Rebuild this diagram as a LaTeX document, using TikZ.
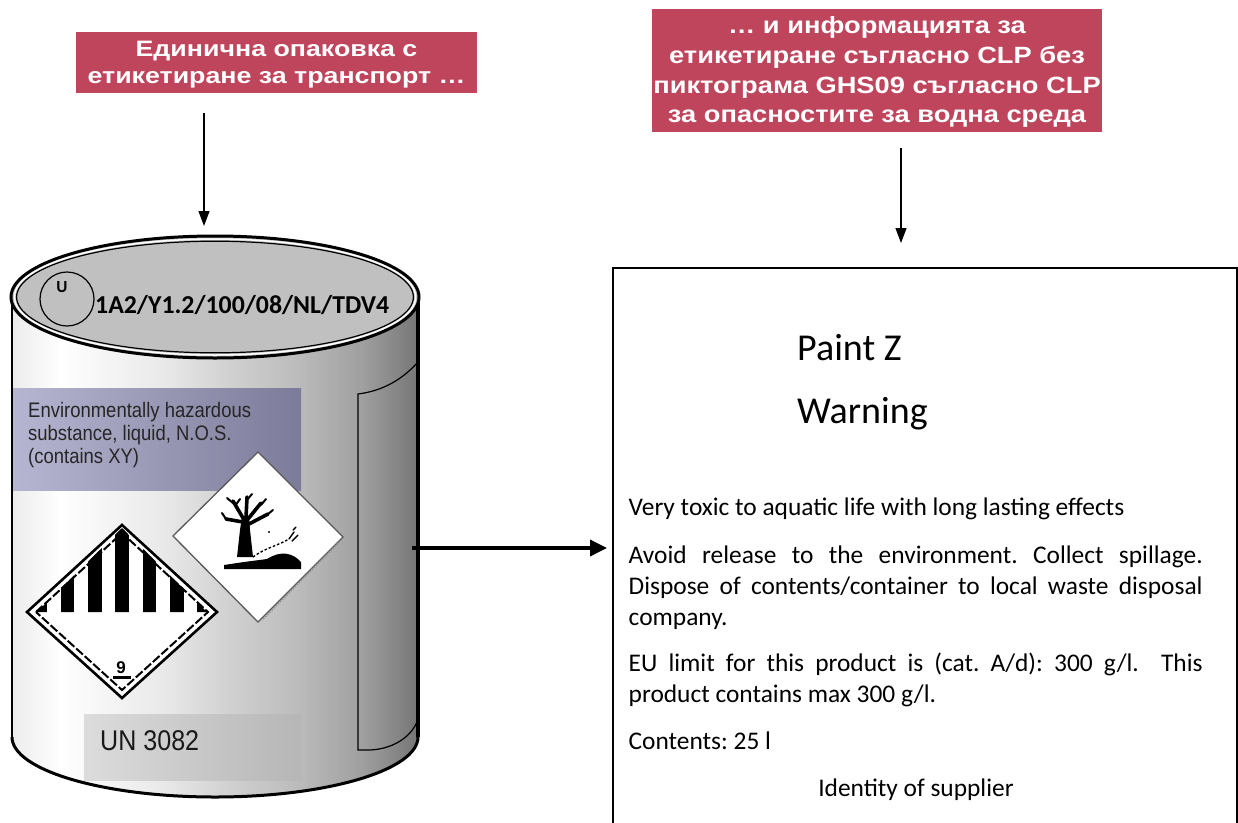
\documentclass[tikz,border=0pt]{standalone}
\usepackage{fontspec}
\setmainfont{Carlito}
\newfontfamily\arialf{Liberation Sans}
\newfontfamily\hdrfA[FakeStretch=1.2]{Liberation Sans}
\newfontfamily\hdrfB[FakeStretch=1.16]{Liberation Sans}
\newfontfamily\narrowf[FakeStretch=0.88]{Liberation Sans}
\usetikzlibrary{arrows.meta}
\definecolor{hdr}{RGB}{191,69,92}
\definecolor{topgray}{RGB}{192,192,192}
\definecolor{lblL}{RGB}{182,182,210}
\definecolor{lblR}{RGB}{124,124,154}
\definecolor{unL}{RGB}{220,220,220}
\definecolor{unR}{RGB}{182,182,182}
\definecolor{dA}{RGB}{236,236,236}
\definecolor{dB}{RGB}{232,232,232}
\definecolor{dC}{RGB}{208,208,208}
\definecolor{dD}{RGB}{188,188,188}
\definecolor{dE}{RGB}{160,160,160}
\definecolor{dF}{RGB}{118,118,118}
\pgfdeclarehorizontalshading{drumbody}{100bp}{color(0bp)=(dA); color(25bp)=(dA); color(31bp)=(white); color(44bp)=(dB); color(52bp)=(dC); color(60bp)=(dD); color(68bp)=(dE); color(75bp)=(dF); color(100bp)=(dF)}
\frenchspacing
\begin{document}
\begin{tikzpicture}[x=1pt,y=-1pt,
  hdrbox/.style={fill=hdr, inner sep=0},
  hdrtxt/.style={text=white, anchor=base, inner sep=0},
  bodytxt/.style={anchor=base west, inner sep=0, font=\fontsize{25.4}{30}\selectfont},
  headtxt/.style={anchor=base west, inner sep=0, font=\fontsize{38}{44}\selectfont},
  narrowtxt/.style={anchor=base west, inner sep=0, text=black!85, font=\narrowf\fontsize{21}{24}\selectfont},
  thinarrow/.style={-{Triangle[length=15pt,width=11pt]}, line width=1.2pt},
  thickarrow/.style={-{Triangle[length=17pt,width=16pt]}, line width=3.5pt}]
\useasboundingbox (0,0) rectangle (1238,822);

% ---------- header boxes ----------
\node[hdrbox, minimum width=401pt, minimum height=61pt] (h1) at (276.5,62.5) {};
\node[hdrtxt, font=\hdrfA\bfseries\fontsize{22.3}{26}\selectfont] (h1a) at (276.5,56.7) {Единична опаковка с};
\node[hdrtxt, font=\hdrfA\bfseries\fontsize{22.3}{26}\selectfont] (h1b) at (276.5,83.3) {етикетиране за транспорт …};

\node[hdrbox, minimum width=450pt, minimum height=123pt] (h2) at (877,70.5) {};
\node[hdrtxt, font=\hdrfB\bfseries\fontsize{23.5}{28}\selectfont] (h2a) at (877,33) {… и информацията за};
\node[hdrtxt, font=\hdrfB\bfseries\fontsize{23.5}{28}\selectfont] (h2b) at (877,63) {етикетиране съгласно CLP без};
\node[hdrtxt, font=\hdrfB\bfseries\fontsize{23.5}{28}\selectfont] (h2c) at (877,93.5) {пиктограма GHS09 съгласно CLP};
\node[hdrtxt, font=\hdrfB\bfseries\fontsize{23.5}{28}\selectfont] (h2d) at (877,122.5) {за опасностите за водна среда};

% ---------- drum body ----------
\shade[shading=drumbody] (12,297) -- (12,737) .. controls (12,770) and (103,797) .. (215,797)
  .. controls (327,797) and (418,770) .. (418,737) -- (418,297) -- cycle;
% right panel
\draw[line width=1.2pt] (418,362) .. controls (402,380) and (382,391) .. (358,394) -- (358,750) -- (370,750)
  .. controls (392,749) and (410,738) .. (417,722);

% blue label
\shade[left color=lblL, right color=lblR] (12,388) rectangle (301,490);
% UN rectangle
\shade[left color=unL, right color=unR] (84,714) rectangle (301,780);

% ---------- class 9 label ----------
\fill[white] (27,612) -- (122,525) -- (217,612) -- (122,698) -- cycle;
\begin{scope}
  \clip (37,612) -- (122,528) -- (207,612) -- cycle;
  \foreach \cx in {40,67.3,94.7,122,149.3,176.7,204}
    \fill (\cx-6.8,520) rectangle (\cx+6.8,612.5);
\end{scope}
\draw[line width=2.6pt, line join=miter] (27,612) -- (122,525) -- (217,612) -- (122,698) -- cycle;
\draw[line width=2pt, dash pattern=on 9pt off 2.5pt] (36,612) -- (122,533) -- (208,612) -- (122,690) -- cycle;
\node[anchor=base, inner sep=0, font=\arialf\bfseries\fontsize{17}{20}\selectfont] (nine) at (121,673) {9};
\fill (113,676) rectangle (131,679);

% ---------- environment pictogram ----------
\filldraw[fill=white, draw=black!65, line width=1.3pt] (173,536) -- (258,452) -- (343,537) -- (258,622) -- cycle;
\draw[black!45, line width=1.6pt, dash pattern=on 1.5pt off 1.5pt] (340,541) -- (262,620);
% tree trunk
\fill (237,557) -- (240,530) -- (242,516) -- (249,516) -- (250,530) -- (253,557) -- cycle;
\begin{scope}[line width=3.6pt, line cap=round]
  \draw (243,522) -- (226,519);
  \draw (243,518) -- (233,501);
  \draw (246,518) -- (247,497);
  \draw (248,519) -- (261,503);
  \draw (249,524) -- (268,514);
\end{scope}
\begin{scope}[line width=2pt, line cap=round]
  \draw (233,503) -- (227,498);
  \draw (235,506) -- (240,499);
  \draw (226,519) -- (222,513);
  \draw (247,500) -- (252,494);
  \draw (261,505) -- (266,499);
  \draw (268,514) -- (273,510);
\end{scope}
% ground
\fill (224,569) -- (301,569) -- (301,562) .. controls (293,553) and (281,550) .. (267,559) -- (244,562) -- (224,565) -- cycle;
% dead fish (dashed)
\draw[line width=1.4pt, dash pattern=on 2.5pt off 2pt] (253,557) .. controls (265,548) and (277,546) .. (289,539);
\draw[line width=1.4pt, line cap=round] (289,539) -- (294,532) (292,541) -- (298,535) (293,530) -- (296,527);
\fill (269,532) circle[radius=1.2pt];

% ---------- drum outline ----------
\draw[line width=2pt] (12,297) -- (12,737);
\draw[line width=3pt] (12,737) .. controls (12,770) and (103,797) .. (215,797)
  .. controls (327,797) and (418,770) .. (418,737);
\draw[line width=3.5pt] (418,297) -- (418,737);

% top lid
\fill[topgray] (215,297) ellipse [x radius=204pt, y radius=61pt];
\draw[line width=3pt] (215,297) ellipse [x radius=204pt, y radius=61pt];
\draw[white, line width=1.5pt] (215,297) ellipse [x radius=200.6pt, y radius=58pt];
\draw[line width=1.2pt] (215,297) ellipse [x radius=198.4pt, y radius=55.8pt];
\draw[line width=1.2pt] (67,299) circle[radius=27pt];
\node[anchor=base, inner sep=0, font=\bfseries\fontsize{17}{20}\selectfont] (ulet) at (62,292) {U};
\node[anchor=base west, inner sep=0, font=\bfseries\fontsize{25.8}{30}\selectfont] (code) at (95,313) {1A2/Y1.2/100/08/NL/TDV4};

% label texts on drum
\node[narrowtxt] (e1) at (28,417) {Environmentally hazardous};
\node[narrowtxt] (e2) at (28,440.7) {substance, liquid, N.O.S.};
\node[narrowtxt] (e3) at (28,463) {(contains XY)};
\node[anchor=base west, inner sep=0, text=black!90, font=\narrowf\fontsize{28.5}{32}\selectfont] (un) at (100,750) {UN 3082};

% ---------- CLP label ----------
\node[draw, line width=1.5pt, minimum width=624pt, minimum height=600pt, anchor=north west, inner sep=0] (lbl) at (612,267) {};
\node[headtxt] (pz) at (797,360) {Paint Z};
\node[headtxt] (warn) at (797,423) {Warning};
\node[bodytxt] (t1) at (628.5,515) {Very toxic to aquatic life with long lasting effects};
\node[bodytxt] (t2) at (628.5,563) {\makebox[574pt][s]{Avoid release to the environment. Collect spillage.}};
\node[bodytxt] (t3) at (628.5,594) {\makebox[574pt][s]{Dispose of contents/container to local waste disposal}};
\node[bodytxt] (t4) at (628.5,625) {company.};
\node[bodytxt] (t5) at (628.5,671) {\makebox[574pt][s]{EU limit for this product is (cat. A/d): 300 g/l.\ \ This}};
\node[bodytxt] (t6) at (628.5,702) {product contains max 300 g/l.};
\node[bodytxt] (t7) at (628.5,749) {Contents: 25 l};
\node[bodytxt, anchor=base] (t8) at (916,796) {Identity of supplier};

% ---------- arrows ----------
\coordinate (a1s) at (204,113);
\coordinate (a1e) at (204,226);
\draw[thinarrow] (a1s) -- (a1e);
\coordinate (a2s) at (901,148);
\coordinate (a2e) at (901,243);
\draw[thinarrow] (a2s) -- (a2e);
\coordinate (a3s) at (412,548);
\draw[thickarrow, shorten >=5pt] (a3s) -- (a3s -| lbl.west);
\end{tikzpicture}
\end{document}
